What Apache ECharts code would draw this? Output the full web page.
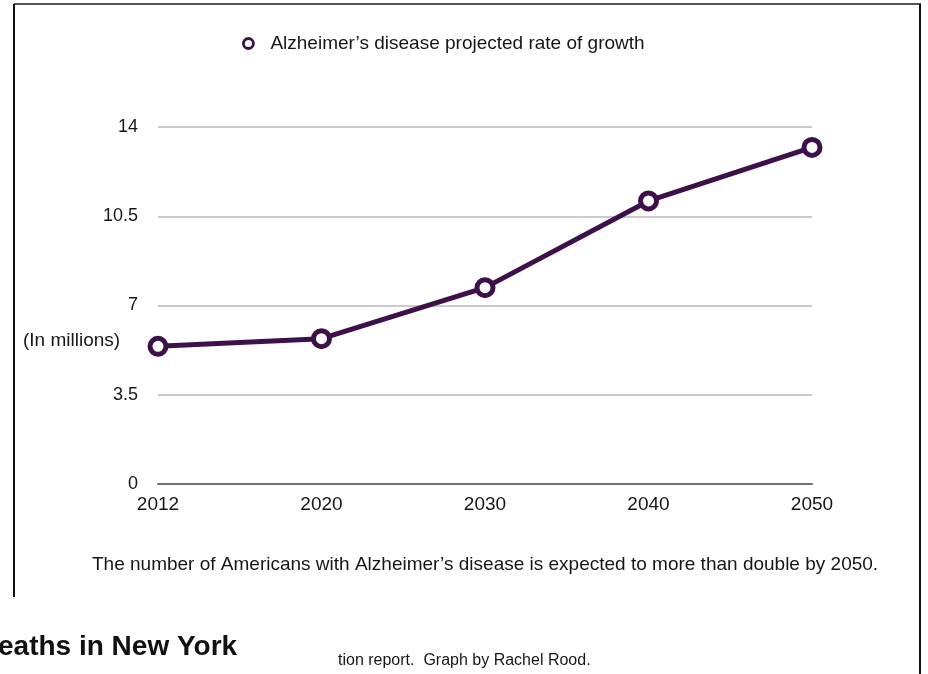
<!DOCTYPE html>
<html>
<head>
<meta charset="utf-8">
<style>
  html, body { margin: 0; padding: 0; background: #fff; }
  #chart { width: 928px; height: 674px; }
</style>
<script src="https://cdn.jsdelivr.net/npm/echarts@6/dist/echarts.min.js"></script>
</head>
<body>
<div id="chart"></div>
<script>
// Projected number of Americans with Alzheimer's disease (millions)
const years = ['2012', '2020', '2030', '2040', '2050'];
const patients = [5.4, 5.7, 7.7, 11.1, 13.2];
const seriesName = 'Alzheimer’s disease projected rate of growth';
const yTicks = [0, 3.5, 7, 10.5, 14];

const purple = '#3e1049';
const ink = '#161616';
const font = '"Liberation Sans", Arial, Helvetica, sans-serif';

const chart = echarts.init(document.getElementById('chart'), null, { renderer: 'canvas' });

chart.setOption({
  animation: false,
  backgroundColor: '#fff',
  textStyle: { fontFamily: font },
  grid: { left: 158, right: 116, top: 127, bottom: 190, containLabel: false },
  legend: {
    data: [{ name: seriesName, icon: 'circle' }],
    left: 237,
    top: 29,
    itemWidth: 34,
    itemHeight: 10,
    itemStyle: { color: '#fff', borderColor: purple, borderWidth: 2.8 },
    textStyle: { fontSize: 19, color: ink, fontFamily: font }
  },
  xAxis: {
    type: 'category',
    data: years,
    boundaryGap: false,
    axisLine: { show: true, lineStyle: { color: '#707070', width: 2 } },
    axisTick: { show: false },
    axisLabel: { color: ink, fontSize: 19, margin: 11, fontFamily: font },
    splitLine: { show: false }
  },
  yAxis: {
    type: 'value',
    min: yTicks[0],
    max: yTicks[yTicks.length - 1],
    interval: yTicks[1] - yTicks[0],
    axisLine: { show: false },
    axisTick: { show: false },
    axisLabel: { color: ink, fontSize: 18, margin: 20, fontFamily: font },
    splitLine: { show: true, lineStyle: { color: '#cacaca', width: 2 } }
  },
  series: [{
    name: seriesName,
    type: 'line',
    data: patients,
    symbol: 'circle',
    symbolSize: 16,
    lineStyle: { color: purple, width: 5 },
    itemStyle: { color: '#fff', borderColor: purple, borderWidth: 5 },
    z: 5
  }],
  graphic: [
    // frame around the chart panel
    { type: 'line', shape: { x1: 14, y1: 4, x2: 921, y2: 4 }, style: { stroke: '#555', lineWidth: 2 } },
    { type: 'line', shape: { x1: 14, y1: 4, x2: 14, y2: 597 }, style: { stroke: '#111', lineWidth: 2 } },
    { type: 'line', shape: { x1: 920, y1: 4, x2: 920, y2: 674 }, style: { stroke: '#111', lineWidth: 2 } },
    // y-axis unit label
    {
      type: 'text', left: 23, top: 331,
      style: { text: '(In millions)', fontSize: 19, fill: ink, fontFamily: font }
    },
    // caption under the chart
    {
      type: 'text', left: 92, top: 555,
      style: {
        text: 'The number of Americans with Alzheimer’s disease is expected to more than double by 2050.',
        fontSize: 19, fill: ink, fontFamily: font
      }
    },
    // page heading below the panel
    {
      type: 'text', left: -2, top: 633,
      style: {
        text: 'eaths in New York', fontSize: 28, fontWeight: 'bold', fill: '#111',
        fontFamily: font
      }
    },
    // source credit line
    {
      type: 'text', left: 338, top: 653,
      style: { text: 'tion report.  Graph by Rachel Rood.', fontSize: 16, fill: ink, fontFamily: font }
    }
  ]
});
</script>
</body>
</html>
